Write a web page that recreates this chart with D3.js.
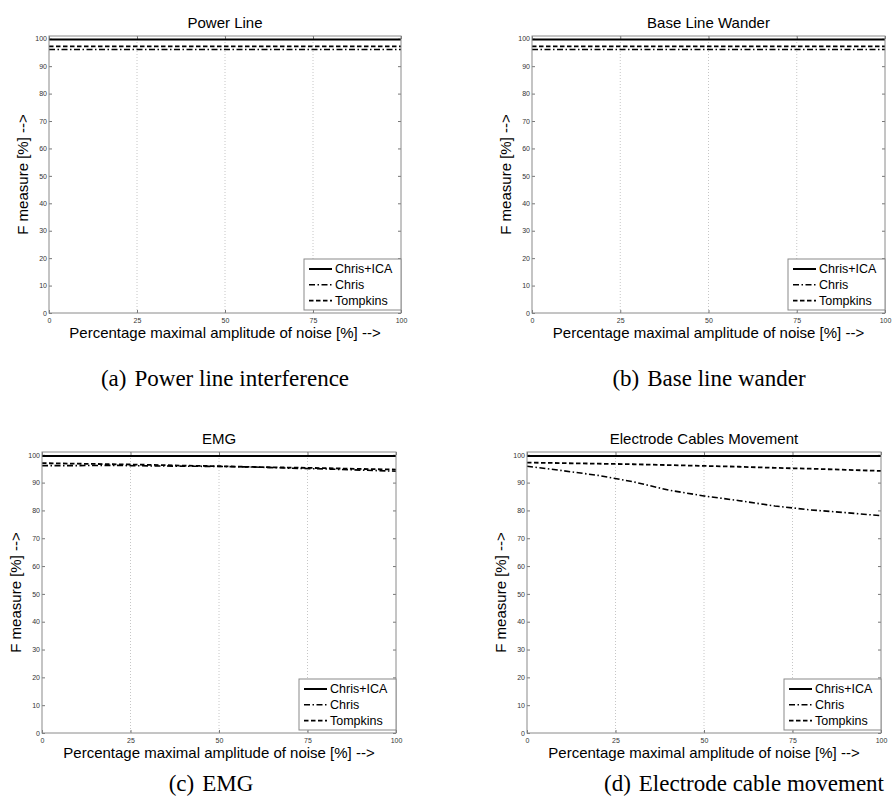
<!DOCTYPE html>
<html>
<head>
<meta charset="utf-8">
<script src="https://cdn.jsdelivr.net/npm/d3@7"></script>
<style>
  html, body { margin: 0; padding: 0; background: #fff; }
  svg { display: block; }
  .tick text { font-family: "Liberation Sans", Arial, sans-serif; font-size: 7px; fill: #333; }
</style>
</head>
<body>
<svg id="fig" width="892" height="807"></svg>
<script>
// Noise levels (x) and tick labels
const noiseLevels = [0, 10, 20, 30, 40, 50, 60, 70, 80, 90, 100];
const xTickValues = [0, 25, 50, 75, 100];
const yTickValues = [0, 10, 20, 30, 40, 50, 60, 70, 80, 90, 100];
const gridValues = [25, 50, 75];

// Panel titles and sub-captions (label, text)
const panelTitles = ["Power Line", "Base Line Wander", "EMG", "Electrode Cables Movement"];
const captionLabels = ["(a)", "(b)", "(c)", "(d)"];
const captionTexts = ["Power line interference", "Base line wander", "EMG", "Electrode cable movement"];
const seriesNames = ["Chris+ICA", "Chris", "Tompkins"];

// F measure [%] per method, per noise type
const powerChrisICA = [99.7, 99.7, 99.7, 99.7, 99.7, 99.7, 99.7, 99.7, 99.7, 99.7, 99.7];
const powerChris    = [96.1, 96.1, 96.1, 96.1, 96.1, 96.1, 96.1, 96.1, 96.1, 96.1, 96.1];
const powerTompkins = [97.2, 97.2, 97.2, 97.2, 97.2, 97.2, 97.2, 97.2, 97.2, 97.2, 97.2];

const baseChrisICA = [99.7, 99.7, 99.7, 99.7, 99.7, 99.7, 99.7, 99.7, 99.7, 99.7, 99.7];
const baseChris    = [96.1, 96.1, 96.1, 96.1, 96.1, 96.1, 96.1, 96.1, 96.1, 96.1, 96.1];
const baseTompkins = [97.2, 97.2, 97.2, 97.2, 97.2, 97.2, 97.2, 97.2, 97.2, 97.2, 97.2];

const emgChrisICA = [99.6, 99.6, 99.6, 99.6, 99.6, 99.6, 99.6, 99.6, 99.6, 99.6, 99.6];
const emgChris    = [96.1, 96.1, 96.2, 96.0, 95.9, 95.8, 95.6, 95.2, 94.9, 94.5, 94.1];
const emgTompkins = [97.0, 96.8, 96.6, 96.4, 96.1, 95.9, 95.6, 95.4, 95.2, 94.9, 94.7];

const cableChrisICA = [99.6, 99.6, 99.6, 99.6, 99.6, 99.6, 99.6, 99.6, 99.6, 99.6, 99.6];
const cableChris    = [95.9, 94.3, 92.6, 90.3, 87.3, 85.2, 83.5, 81.6, 80.2, 79.2, 78.1];
const cableTompkins = [97.2, 97.0, 96.8, 96.6, 96.3, 96.0, 95.7, 95.3, 95.0, 94.6, 94.2];

const panelSeries = [
  [powerChrisICA, powerChris, powerTompkins],
  [baseChrisICA, baseChris, baseTompkins],
  [emgChrisICA, emgChris, emgTompkins],
  [cableChrisICA, cableChris, cableTompkins]
];

// Layout of the four axes boxes and caption anchors
const panelBoxes = [
  { left: 49,  right: 401, top: 36,  bottom: 313, capX: 225, capY: 386 },
  { left: 532, right: 885, top: 36,  bottom: 313, capX: 709, capY: 386 },
  { left: 42,  right: 396, top: 452, bottom: 733, capX: 211, capY: 791 },
  { left: 527, right: 881, top: 452, bottom: 733, capX: 744, capY: 791 }
];

// Line styles: solid, dash-dot, dashed
const lineDash = [null, "6,2.5,1.5,2.5", "4.5,2.5"];
const lineWidth = [2, 1.6, 1.8];

const sansFont = '"Liberation Sans", Arial, Helvetica, sans-serif';
const serifFont = '"Liberation Serif", "Times New Roman", serif';

const svg = d3.select("#fig");

panelBoxes.forEach((box, p) => {
  const x = d3.scaleLinear().domain([0, 100]).range([box.left, box.right]);
  const y = d3.scaleLinear().domain([0, 101]).range([box.bottom, box.top]);
  const g = svg.append("g");

  // vertical dotted grid
  g.selectAll("line.grid").data(gridValues).join("line")
    .attr("class", "grid")
    .attr("x1", d => x(d)).attr("x2", d => x(d))
    .attr("y1", box.top).attr("y2", box.bottom)
    .attr("stroke", "#b8b8b8").attr("stroke-width", 0.8)
    .attr("stroke-dasharray", "1,2");

  // axes with inward ticks
  const axL = d3.axisLeft(y).tickValues(yTickValues).tickSize(-3).tickPadding(2);
  const axR = d3.axisRight(y).tickValues(yTickValues).tickSize(-3).tickFormat("");
  const axB = d3.axisBottom(x).tickValues(xTickValues).tickSize(-3).tickPadding(5);
  const axT = d3.axisTop(x).tickValues(xTickValues).tickSize(-3).tickFormat("");

  [[axL, `translate(${box.left},0)`], [axR, `translate(${box.right},0)`],
   [axB, `translate(0,${box.bottom})`], [axT, `translate(0,${box.top})`]].forEach(([ax, tr]) => {
    const a = g.append("g").attr("transform", tr).call(ax);
    a.select(".domain").remove();
    a.selectAll(".tick line").attr("stroke", "#777");
  });

  // series lines
  const line = d3.line().x((d, i) => x(noiseLevels[i])).y(d => y(d));
  panelSeries[p].forEach((vals, s) => {
    g.append("path").datum(vals)
      .attr("d", line)
      .attr("fill", "none")
      .attr("stroke", "#000")
      .attr("stroke-width", lineWidth[s])
      .attr("stroke-dasharray", lineDash[s]);
  });

  // axes box
  g.append("rect")
    .attr("x", box.left).attr("y", box.top)
    .attr("width", box.right - box.left).attr("height", box.bottom - box.top)
    .attr("fill", "none").attr("stroke", "#8a8a8a").attr("stroke-width", 1);

  // title
  g.append("text")
    .attr("x", (box.left + box.right) / 2).attr("y", box.top - 8)
    .attr("text-anchor", "middle")
    .attr("font-family", sansFont).attr("font-size", 15)
    .text(panelTitles[p]);

  // axis labels
  g.append("text")
    .attr("x", (box.left + box.right) / 2).attr("y", box.bottom + 25)
    .attr("text-anchor", "middle")
    .attr("font-family", sansFont).attr("font-size", 15)
    .text("Percentage maximal amplitude of noise [%] -->");

  g.append("text")
    .attr("transform", `translate(${box.left - 27},${(box.top + box.bottom) / 2}) rotate(-90)`)
    .attr("text-anchor", "middle").attr("dominant-baseline", "central")
    .attr("font-family", sansFont).attr("font-size", 15)
    .text("F measure [%] -->");

  // legend
  const lw = 97, lh = 51;
  const lx = box.right - lw, ly = box.bottom - 3 - lh;
  const leg = g.append("g").attr("transform", `translate(${lx},${ly})`);
  leg.append("rect").attr("width", lw).attr("height", lh)
    .attr("fill", "#fff").attr("stroke", "#8a8a8a").attr("stroke-width", 1);
  seriesNames.forEach((name, s) => {
    const cy = 10 + s * 15.8;
    leg.append("line")
      .attr("x1", 5).attr("x2", 28).attr("y1", cy).attr("y2", cy)
      .attr("stroke", "#000").attr("stroke-width", lineWidth[s])
      .attr("stroke-dasharray", lineDash[s]);
    leg.append("text")
      .attr("x", 31).attr("y", cy).attr("dominant-baseline", "central")
      .attr("font-family", sansFont).attr("font-size", 12.5)
      .text(name);
  });

  // sub-caption: label, wider gap, text
  const cap = svg.append("text")
    .attr("x", box.capX).attr("y", box.capY)
    .attr("text-anchor", "middle")
    .attr("font-family", serifFont).attr("font-size", 23);
  cap.append("tspan").text(captionLabels[p]);
  cap.append("tspan").attr("dx", 8).text(captionTexts[p]);
});
</script>
</body>
</html>
